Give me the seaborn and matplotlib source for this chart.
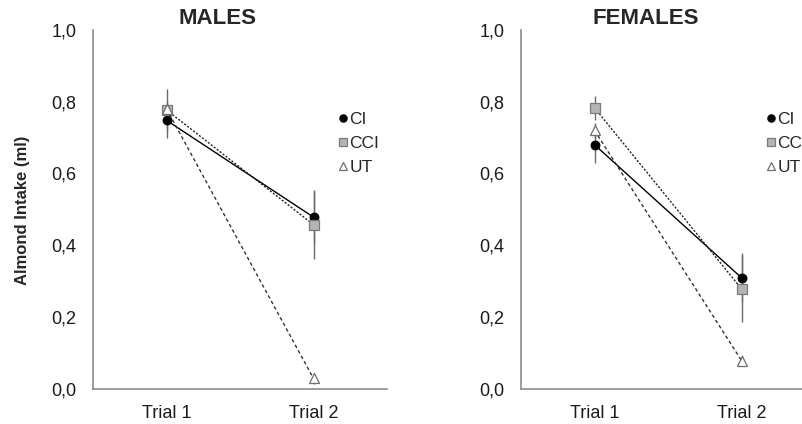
import matplotlib
matplotlib.use("Agg")
import matplotlib.pyplot as plt
import seaborn as sns
from matplotlib.lines import Line2D

# data
trials = ["Trial 1", "Trial 2"]
groups = ["CI", "CCI", "UT"]

males_ci = [0.748, 0.478]
males_cci = [0.777, 0.457]
males_ut = [0.780, 0.028]
males_ci_err = [0.050, 0.075]
males_cci_err = [0.058, 0.095]
males_ut_err = [0.012, 0.015]

females_ci = [0.680, 0.309]
females_cci = [0.783, 0.278]
females_ut = [0.720, 0.078]
females_ci_err = [0.050, 0.068]
females_cci_err = [0.033, 0.093]
females_ut_err = [0.020, 0.015]

sns.set_style("white")
plt.rcParams["font.family"] = ["Liberation Sans", "DejaVu Sans"]

estilos = {
    "CI": dict(marker="o", linestyle="-", mfc="black", mec="black", ms=6.2, lc="black"),
    "CCI": dict(marker="s", linestyle=(0, (1.5, 1.2)), mfc="#b4b4b4", mec="#7a7a7a", ms=6.8, lc="#222222"),
    "UT": dict(marker="^", linestyle=(0, (2.5, 2.0)), mfc="white", mec="#6e6e6e", ms=7.2, lc="#333333"),
}

fig = plt.figure(figsize=(8.03, 4.24), dpi=100)

posicoes = [
    [93 / 803, 1 - 388.5 / 424, 294 / 803, 358.5 / 424],
    [521 / 803, 1 - 388.5 / 424, 294 / 803, 358.5 / 424],
]

paineis = [
    ("MALES", [males_ci, males_cci, males_ut], [males_ci_err, males_cci_err, males_ut_err]),
    ("FEMALES", [females_ci, females_cci, females_ut], [females_ci_err, females_cci_err, females_ut_err]),
]

for pos, (titulo, series, erros) in zip(posicoes, paineis):
    ax = fig.add_axes(pos)

    # error bars first so the markers sit on top
    for grupo, vals, err in zip(groups, series, erros):
        ax.errorbar(
            [0, 1], vals, yerr=err,
            fmt="none", ecolor="#6a6a6a", elinewidth=1.0, capsize=0, zorder=1
        )

    for grupo, vals in zip(groups, series):
        e = estilos[grupo]
        sns.lineplot(
            x=[0, 1], y=vals, ax=ax,
            color=e["lc"], linestyle=e["linestyle"], linewidth=1.0,
            marker=e["marker"], markerfacecolor=e["mfc"], markeredgecolor=e["mec"],
            markersize=e["ms"], markeredgewidth=0.9, zorder=3
        )

    ax.set_xlim(-0.5, 1.5)
    ax.set_ylim(0, 1.0)
    ax.set_xticks([0, 1, 1.5])
    ax.set_xticklabels(trials + [""])
    ax.set_yticks([0, 0.2, 0.4, 0.6, 0.8, 1.0])
    ax.set_yticklabels([f"{v:.1f}".replace(".", ",") for v in [0, 0.2, 0.4, 0.6, 0.8, 1.0]])

    sns.despine(ax=ax)
    for lado in ["left", "bottom"]:
        ax.spines[lado].set_color("#8c8c8c")
        ax.spines[lado].set_linewidth(1.2)
    ax.tick_params(axis="both", direction="out", length=5, width=1.0, color="#8c8c8c",
                   labelsize=13, pad=7, labelcolor="#1a1a1a")
    ax.set_xlabel("")
    ax.set_ylabel("")
    ax.grid(False)

    x0 = pos[0] + 0.425 * pos[2]
    fig.text(x0, 1 - 19 / 424, titulo, ha="center", va="center",
             fontsize=16, fontweight="bold")

    handles = []
    for grupo in groups:
        e = estilos[grupo]
        handles.append(Line2D([], [], linestyle="none", marker=e["marker"],
                              markerfacecolor=e["mfc"], markeredgecolor=e["mec"],
                              markersize=e["ms"] - 1.0, markeredgewidth=0.9))
    fig.legend(
        handles, groups,
        loc="upper left",
        bbox_to_anchor=(pos[0] + 246 / 803, 1 - 112 / 424),
        frameon=False, fontsize=12.5,
        handlelength=0.5, handletextpad=0.1,
        labelspacing=0.5, borderaxespad=0, borderpad=0
    )

fig.text(23 / 803, 1 - 210 / 424, "Almond Intake (ml)", rotation=90,
         ha="center", va="center", fontsize=12, fontweight="bold")

fig.savefig("out.png", dpi=100)
